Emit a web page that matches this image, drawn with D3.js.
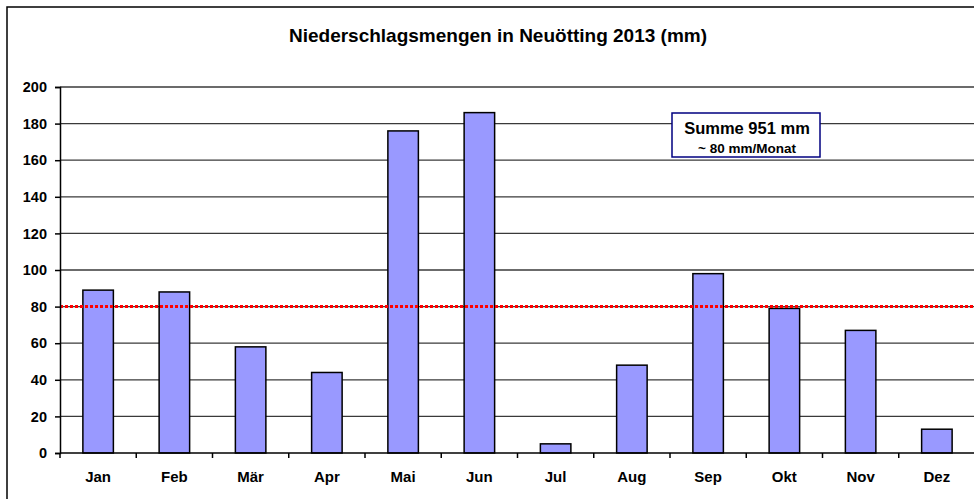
<!DOCTYPE html>
<html>
<head>
<meta charset="utf-8">
<script src="https://cdn.jsdelivr.net/npm/d3@7"></script>
<style>
body { margin: 0; background: #fff; }
svg { font-family: "Liberation Sans", Arial, sans-serif; font-weight: bold; }
</style>
</head>
<body>
<div id="chart"></div>
<script>
var months = ['Jan', 'Feb', 'Mär', 'Apr', 'Mai', 'Jun', 'Jul', 'Aug', 'Sep', 'Okt', 'Nov', 'Dez'];
var rainfall = [89, 88, 58, 44, 176, 186, 5, 48, 98, 79, 67, 13];
var yTicks = [0, 20, 40, 60, 80, 100, 120, 140, 160, 180, 200];
var average = 80;
var title = 'Niederschlagsmengen in Neuötting 2013 (mm)';
var boxLines = ['Summe 951 mm', '~ 80 mm/Monat'];

var width = 974;
var height = 499;
var margin = { left: 60, right: -1, top: 87, bottom: 46 };

var svg = d3.select('#chart').append('svg')
    .attr('width', width)
    .attr('height', height);

// outer frame
svg.append('rect')
    .attr('x', 7).attr('y', 7)
    .attr('width', width + 10).attr('height', height + 10)
    .attr('fill', 'none')
    .attr('stroke', '#000')
    .attr('stroke-width', 1.5);

svg.append('text')
    .attr('x', 498).attr('y', 42)
    .attr('text-anchor', 'middle')
    .attr('font-size', 19)
    .text(title);

var x = d3.scaleBand()
    .domain(months)
    .range([margin.left, width - margin.right])
    .paddingInner(0.6)
    .paddingOuter(0.3);

var y = d3.scaleLinear()
    .domain([0, 200])
    .range([height - margin.bottom, margin.top]);

// grid lines
svg.append('g')
    .selectAll('line')
    .data(yTicks.slice(1))
    .enter().append('line')
    .attr('x1', margin.left)
    .attr('x2', width - margin.right)
    .attr('y1', function (d) { return y(d); })
    .attr('y2', function (d) { return y(d); })
    .attr('stroke', '#3a3a3a')
    .attr('stroke-width', 1.3);

// bars
svg.append('g')
    .selectAll('rect')
    .data(rainfall)
    .enter().append('rect')
    .attr('x', function (d, i) { return x(months[i]); })
    .attr('y', function (d) { return y(d); })
    .attr('width', x.bandwidth())
    .attr('height', function (d) { return y(0) - y(d); })
    .attr('fill', '#9999ff')
    .attr('stroke', '#000')
    .attr('stroke-width', 1.5);

// average line
svg.append('line')
    .attr('x1', margin.left)
    .attr('x2', width - margin.right)
    .attr('y1', y(average))
    .attr('y2', y(average))
    .attr('stroke', '#ff0000')
    .attr('stroke-width', 3)
    .attr('stroke-dasharray', '3,2');

// y axis
var yAxis = d3.axisLeft(y)
    .tickValues(yTicks)
    .tickSize(5)
    .tickPadding(8);

var gy = svg.append('g')
    .attr('transform', 'translate(' + margin.left + ',0)')
    .call(yAxis);
gy.select('.domain').attr('stroke', '#000').attr('stroke-width', 1.5);
gy.selectAll('.tick line').attr('stroke', '#000').attr('stroke-width', 1.5);
gy.selectAll('.tick text')
    .attr('font-size', 14.5)
    .attr('font-family', '"Liberation Sans", Arial, sans-serif')
    .attr('font-weight', 'bold')
    .attr('fill', '#000');

// x axis with ticks between categories
var gx = svg.append('g')
    .attr('transform', 'translate(0,' + y(0) + ')');
gx.append('line')
    .attr('x1', margin.left)
    .attr('x2', width - margin.right)
    .attr('stroke', '#000')
    .attr('stroke-width', 1.5);
gx.selectAll('line.tick')
    .data(months)
    .enter().append('line')
    .attr('class', 'tick')
    .attr('x1', function (d) { return x(d) - x.step() * x.paddingOuter(); })
    .attr('x2', function (d) { return x(d) - x.step() * x.paddingOuter(); })
    .attr('y1', 0)
    .attr('y2', 5)
    .attr('stroke', '#000')
    .attr('stroke-width', 1.5);
gx.selectAll('text')
    .data(months)
    .enter().append('text')
    .attr('x', function (d) { return x(d) + x.bandwidth() / 2; })
    .attr('y', 29)
    .attr('text-anchor', 'middle')
    .attr('font-size', 15)
    .text(function (d) { return d; });

// summary box
var box = svg.append('g').attr('transform', 'translate(672,113)');
box.append('rect')
    .attr('width', 148).attr('height', 44)
    .attr('fill', '#fff')
    .attr('stroke', '#000080')
    .attr('stroke-width', 1.5);
box.append('text')
    .attr('x', 75).attr('y', 21)
    .attr('text-anchor', 'middle')
    .attr('font-size', 16.5)
    .text(boxLines[0]);
box.append('text')
    .attr('x', 75).attr('y', 40)
    .attr('text-anchor', 'middle')
    .attr('font-size', 13.5)
    .text(boxLines[1]);
</script>
</body>
</html>
